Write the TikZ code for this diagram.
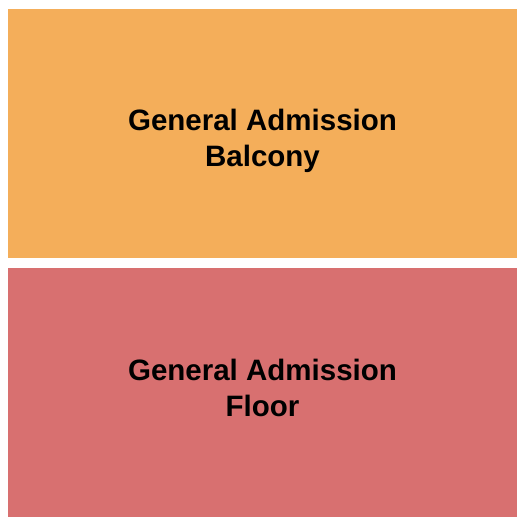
\documentclass[tikz,border=0pt]{standalone}
\usepackage{fontspec}
\setmainfont{Liberation Sans}
\usepackage{tikz}
\usepackage{xcolor}
\usetikzlibrary{positioning}
\definecolor{balconyorange}{RGB}{244,174,90}
\definecolor{floorred}{RGB}{216,112,112}
\tikzset{
    section/.style={font=\bfseries\fontsize{29.5}{36}\selectfont, align=center, text=black}
}
\begin{document}
\begin{tikzpicture}[x=1pt, y=-1pt]
        \useasboundingbox[fill=white] (0,0) rectangle (525,525);
        \fill[balconyorange] (8,9) rectangle (517,258);
        \fill[floorred] (8,268) rectangle (517,517);
        \node[section] (balcony) at (262.5,140.5) {General Admission\\Balcony};
        \node[section] (floor) at (262.5,388) {General Admission\\Floor};
    \end{tikzpicture}
\end{document}
